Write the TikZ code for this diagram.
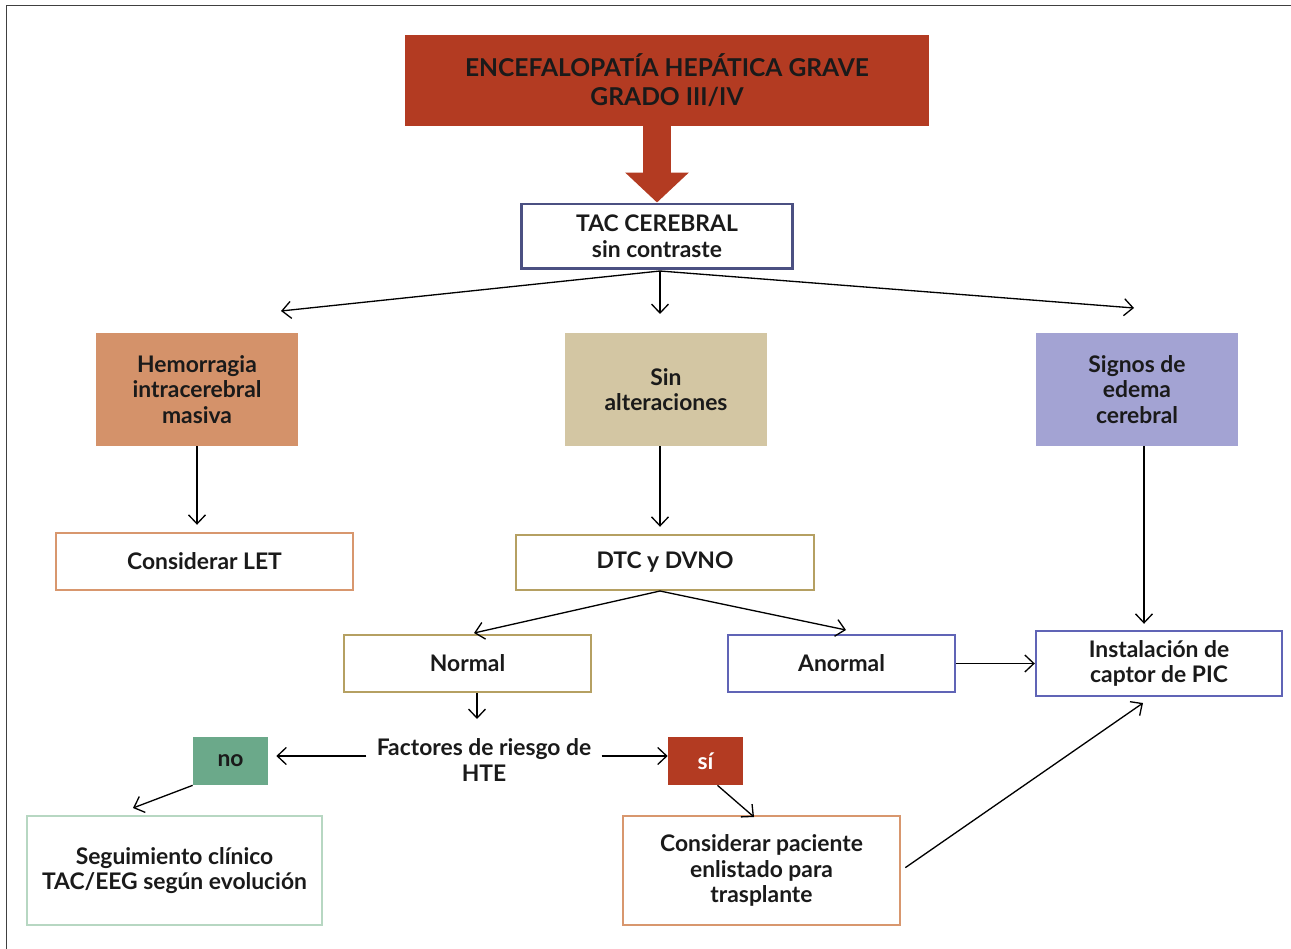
\documentclass[tikz,border=0pt]{standalone}
\usepackage{fontspec}
\setmainfont{Lato}
\usepackage{tikz}
\usetikzlibrary{shapes,arrows.meta,positioning}
\definecolor{rojo}{HTML}{B33B22}
\definecolor{naranja}{HTML}{D4926A}
\definecolor{beige}{HTML}{D3C6A3}
\definecolor{lila}{HTML}{A3A3D3}
\definecolor{verde}{HTML}{6BA98A}
\definecolor{marino}{HTML}{4B5082}
\definecolor{oro}{HTML}{B5A062}
\definecolor{azul}{HTML}{6064B6}
\definecolor{verdeclaro}{HTML}{B7D7C2}
\definecolor{borde}{HTML}{D8976E}
\definecolor{texto}{HTML}{1A1A1A}
\tikzstyle{fbox}=[rectangle, inner sep=0pt, align=center, text=texto, font=\bfseries\fontsize{13}{14.6}\selectfont]
\tikzstyle{lbox}=[rectangle, draw, line width=1.4pt, fill=white, inner sep=0pt, align=center, text=texto, font=\bfseries\fontsize{13}{14.6}\selectfont]
\tikzstyle{arr}=[-{Straight Barb[length=0.18cm,width=0.34cm]}, line width=0.75pt, black]
\tikzstyle{bigarr}=[-{Triangle[length=0.6cm,width=1.24cm]}, line width=0.56cm, rojo]

\begin{document}
\begin{tikzpicture}[x=0.02cm,y=-0.02cm]
\useasboundingbox (0,0) rectangle (1291,949);
\draw[black!75, line width=0.9pt] (6.5,949) -- (6.5,5.5) -- (1291,5.5);
%Top
\node[fbox, fill=rojo, minimum width=10.48cm, minimum height=1.82cm, font=\bfseries\fontsize{14}{16.5}\selectfont] (title) at (667,80.5){ENCEFALOPATÍA HEPÁTICA GRAVE\\GRADO III/IV};
\node[lbox, draw=marino, line width=1.7pt, minimum width=5.44cm, minimum height=1.3cm] (tac) at (657,236.5){TAC CEREBRAL\\sin contraste};
%Row One
\node[fbox, fill=naranja, minimum width=4.04cm, minimum height=2.26cm] (hem) at (197,389.5){Hemorragia\\intracerebral\\masiva};
\node[fbox, fill=beige, minimum width=4.04cm, minimum height=2.26cm] (sinalt) at (666,389.5){Sin\\alteraciones};
\node[fbox, fill=lila, minimum width=4.04cm, minimum height=2.26cm] (edema) at (1137,389.5){Signos de\\edema\\cerebral};
%Row Two
\node[lbox, draw=borde, minimum width=5.94cm, minimum height=1.14cm] (let) at (204.5,561.5){Considerar LET};
\node[lbox, draw=oro, minimum width=5.96cm, minimum height=1.1cm] (dtc) at (665,562.5){DTC y DVNO};
%Row Three
\node[lbox, draw=oro, minimum width=4.94cm, minimum height=1.14cm] (normal) at (467.5,663.5){Normal};
\node[lbox, draw=azul, minimum width=4.54cm, minimum height=1.14cm] (anormal) at (841.5,663.5){Anormal};
\node[lbox, draw=azul, minimum width=4.92cm, minimum height=1.3cm] (pic) at (1159,663.5){Instalación de\\captor de PIC};
%Row Four
\node[fbox] (fact) at (484,760){Factores de riesgo de\\HTE};
\node[fbox, fill=verde, minimum width=1.5cm, minimum height=0.96cm] (no) at (230.5,761){no};
\node[fbox, fill=rojo, text=white, minimum width=1.5cm, minimum height=0.96cm] (si) at (705.5,761){sí};
%Row Five
\node[lbox, draw=verdeclaro, minimum width=5.9cm, minimum height=2.18cm] (seg) at (174.5,870.5){Seguimiento clínico\\TAC/EEG según evolución};
\node[lbox, draw=borde, minimum width=5.54cm, minimum height=2.18cm] (cons) at (761.5,870.5){Considerar paciente\\enlistado para\\trasplante};

%Arrow ends
\coordinate (t0) at (660,271);
\coordinate (t1) at (281,311);
\coordinate (t2) at (660,314);
\coordinate (t3) at (1134,308);
\coordinate (d0) at (660,591);
\coordinate (d1) at (474,633);
\coordinate (d2) at (846,630);
\coordinate (n1) at (477,719);
\coordinate (s1) at (133,808);
\coordinate (s2) at (754,817);
\coordinate (p1) at (1143,703);

%Connectors
\draw[bigarr] (title.south -| tac.north) -- (tac.north);
\draw[arr] (t0) -- (t1);
\draw[arr] (t0) -- (t2);
\draw[arr] (t0) -- (t3);
\draw[arr, shorten >=0.14cm] (hem.south) -- (hem.south |- let.north);
\draw[arr, shorten >=0.14cm] (sinalt.south -| t0) -- (dtc.north -| t0);
\draw[arr, shorten >=0.12cm] ([xshift=0.14cm]edema.south) -- ([xshift=0.14cm]edema.south |- pic.north);
\draw[arr] (d0) -- (d1);
\draw[arr] (d0) -- (d2);
\draw[arr] (anormal.east) -- (pic.west);
\draw[arr] (normal.south -| n1) -- (n1);
\draw[arr, shorten <=0.2cm, shorten >=0.16cm] ([yshift=0.08cm]fact.west) -- ([yshift=0.08cm]fact.west -| no.east);
\draw[arr, shorten <=0.2cm] ([yshift=0.08cm]fact.east) -- ([yshift=0.08cm]fact.east -| si.west);
\draw[arr] (no.south west) -- (s1);
\draw[arr] ([xshift=0.24cm]si.south) -- (s2);
\draw[arr, shorten <=0.1cm] (cons.east) -- (p1);
\end{tikzpicture}
\end{document}
